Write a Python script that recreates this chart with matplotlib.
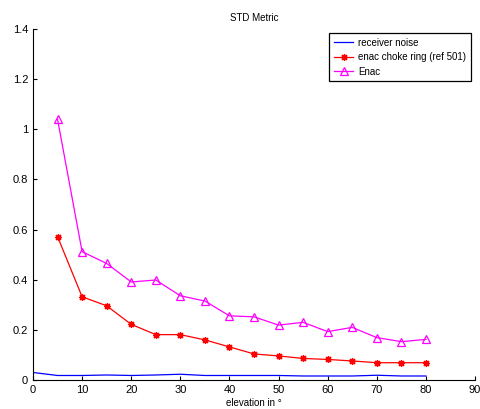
import numpy as np
import matplotlib.pyplot as plt

plt.rcParams['font.family'] = ['Liberation Sans', 'DejaVu Sans']

# data
elev_noise = [0, 5, 10, 15, 20, 25, 30, 35, 40, 45, 50, 55, 60, 65, 70, 75, 80]
noise = [0.030, 0.018, 0.018, 0.020, 0.018, 0.020, 0.023, 0.018, 0.018,
         0.018, 0.018, 0.016, 0.016, 0.016, 0.019, 0.016, 0.016]

elev = [5, 10, 15, 20, 25, 30, 35, 40, 45, 50, 55, 60, 65, 70, 75, 80]
choke_ring = [0.572, 0.332, 0.296, 0.222, 0.181, 0.181, 0.160, 0.132,
              0.104, 0.096, 0.086, 0.082, 0.076, 0.069, 0.069, 0.069]
enac = [1.04, 0.512, 0.465, 0.391, 0.399, 0.336, 0.315, 0.256,
        0.252, 0.219, 0.230, 0.193, 0.210, 0.169, 0.153, 0.162]

# plot
fig = plt.figure(figsize=[4.81, 4.09], dpi=100)
ax = fig.add_axes([0.0686, 0.0709, 0.919, 0.858])
ax.plot(elev_noise, noise, color='blue', lw=0.9, label='receiver noise')
ax.plot(elev, choke_ring, color='red', lw=0.9, marker=(8, 2, 0), ms=5,
        mew=0.9, label='enac choke ring (ref 501)')
ax.plot(elev, enac, color='magenta', lw=0.9, marker='^', ms=6, mfc='none',
        mew=0.9, label='Enac')

ax.set_xlim(0, 90)
ax.set_ylim(0, 1.4)
ax.set_xticks(np.arange(0, 91, 10))
ax.set_yticks([0, 0.2, 0.4, 0.6, 0.8, 1, 1.2, 1.4])
ax.set_yticklabels(['0', '0.2', '0.4', '0.6', '0.8', '1', '1.2', '1.4'])
ax.tick_params(direction='in', labelsize=8, length=3)
ax.spines['top'].set_visible(False)
ax.spines['right'].set_visible(False)
ax.set_title('STD Metric', fontsize=7)
ax.set_xlabel('elevation in °', fontsize=7, labelpad=2)

leg = ax.legend(loc='upper right', fontsize=7, fancybox=False,
                framealpha=1, edgecolor='black', borderaxespad=0.4,
                handlelength=2.0, labelspacing=0.45, borderpad=0.5,
                handletextpad=0.5)
leg.get_frame().set_linewidth(0.9)

plt.savefig('out.png', dpi=100)
